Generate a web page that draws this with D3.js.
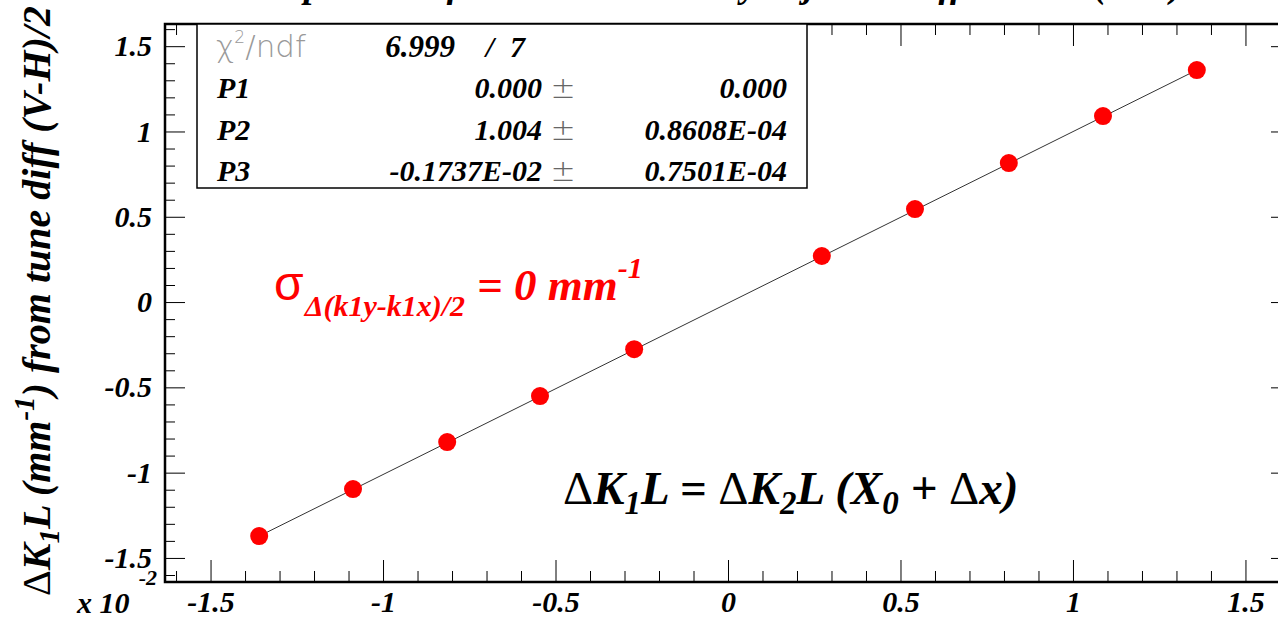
<!DOCTYPE html>
<html>
<head>
<meta charset="utf-8">
<script src="https://cdn.jsdelivr.net/npm/d3@7"></script>
<style>
  body { margin: 0; background: #fff; }
  svg { display: block; }
  .serif { font-family: "Liberation Serif", "DejaVu Serif", serif; font-weight: bold; font-style: italic; }
  .sans { font-family: "Liberation Sans", Arimo, sans-serif; }
  .thin { font-family: "DejaVu Sans", "Liberation Sans", sans-serif; font-weight: 200; }
  .up { font-style: normal; font-weight: normal; }
</style>
</head>
<body>
<div id="chart"></div>
<script>
// data, in units of 10^-2
const xValues = [-1.359, -1.087, -0.814, -0.545, -0.272, 0.272, 0.542, 0.814, 1.087, 1.359];
const yValues = [-1.372, -1.096, -0.821, -0.551, -0.276, 0.270, 0.545, 0.815, 1.090, 1.360];
const fitX = [-1.359, 1.359];
const fitY = [-1.372, 1.360];
const majorTicks = [-1.5, -1, -0.5, 0, 0.5, 1, 1.5];
const tickLabels = ["-1.5", "-1", "-0.5", "0", "0.5", "1", "1.5"];
const statNames = ["P1", "P2", "P3"];
const statValues = ["0.000", "1.004", "-0.1737E-02"];
const statErrors = ["0.000", "0.8608E-04", "0.7501E-04"];

const W = 1278, H = 618;
const margin = { left: 165, top: 24, right: -13, bottom: 36 };
const width = W - margin.left - margin.right;
const height = H - margin.top - margin.bottom;

const svg = d3.select("#chart").append("svg")
    .attr("width", W)
    .attr("height", H);

// Title (sits above the picture, only descenders show)
svg.append("text")
    .attr("class", "serif")
    .attr("x", 232)
    .attr("y", -3)
    .attr("font-size", "37px")
    .text("Comparison of ΔK1L measured by adj. tune diff method (V-H)");

const g = svg.append("g")
    .attr("transform", `translate(${margin.left},${margin.top})`);

// Scales
const x = d3.scaleLinear().domain([-1.632, 1.632]).range([0, width]);
const y = d3.scaleLinear().domain([-1.641, 1.63]).range([height, 0]);

const minor = d3.range(-16, 17).map(d => d / 10).filter(d => !majorTicks.some(m => Math.abs(m - d) < 1e-9));
const fmt = d => tickLabels[majorTicks.indexOf(d)];

function styleAxis(sel) {
    sel.select(".domain").remove();
    sel.selectAll(".tick line").attr("stroke", "#000").attr("stroke-width", 1);
}

// X axes
g.append("g").attr("transform", `translate(0,${height})`)
    .call(d3.axisBottom(x).tickValues(minor).tickSize(-11).tickFormat(""))
    .call(styleAxis);
g.append("g").attr("class", "x axis").attr("transform", `translate(0,${height})`)
    .call(d3.axisBottom(x).tickValues(majorTicks).tickSize(-22).tickPadding(9).tickFormat(fmt))
    .call(styleAxis);
g.append("g")
    .call(d3.axisTop(x).tickValues(minor).tickSize(-11).tickFormat(""))
    .call(styleAxis);
g.append("g")
    .call(d3.axisTop(x).tickValues(majorTicks).tickSize(-22).tickFormat(""))
    .call(styleAxis);

// Y axes
g.append("g")
    .call(d3.axisLeft(y).tickValues(minor).tickSize(-10).tickFormat(""))
    .call(styleAxis);
g.append("g").attr("class", "y axis")
    .call(d3.axisLeft(y).tickValues(majorTicks).tickSize(-20).tickPadding(13).tickFormat(fmt))
    .call(styleAxis);
g.append("g").attr("transform", `translate(${width},0)`)
    .call(d3.axisRight(y).tickValues(minor).tickSize(-10).tickFormat(""))
    .call(styleAxis);
g.append("g").attr("transform", `translate(${width},0)`)
    .call(d3.axisRight(y).tickValues(majorTicks).tickSize(-20).tickFormat(""))
    .call(styleAxis);

g.selectAll(".axis text")
    .attr("class", "serif")
    .attr("font-size", "30px")
    .attr("fill", "#000");

// Frame
g.append("rect")
    .attr("width", width).attr("height", height)
    .attr("fill", "none").attr("stroke", "#000").attr("stroke-width", 2.5);

// Stats box
const box = g.append("g").attr("transform", "translate(32,0)");
box.append("rect")
    .attr("width", 610).attr("height", 164)
    .attr("fill", "#fff").attr("stroke", "#000").attr("stroke-width", 1.5);
const chi = box.append("text").attr("class", "thin")
    .attr("x", 19).attr("y", 33).attr("font-size", "31px").attr("fill", "#999");
chi.append("tspan").text("χ");
chi.append("tspan").attr("font-size", "17px").attr("dy", -14).text("2");
chi.append("tspan").attr("dy", 14).text("/ndf");
box.append("text").attr("class", "serif").attr("x", 258).attr("y", 33)
    .attr("font-size", "31px").attr("text-anchor", "end").text("6.999");
box.append("text").attr("class", "serif").attr("x", 293).attr("y", 33)
    .attr("font-size", "30px").attr("text-anchor", "middle").text("/");
box.append("text").attr("class", "serif").attr("x", 328).attr("y", 33)
    .attr("font-size", "30px").attr("text-anchor", "end").text("7");

const rows = box.selectAll("g.row").data(statNames).enter().append("g")
    .attr("class", "row")
    .attr("transform", (d, i) => `translate(0,${74 + i * 41.5})`);
rows.append("text").attr("class", "serif").attr("x", 20).attr("font-size", "30px")
    .text(d => d);
rows.append("text").attr("class", "serif").attr("x", 345).attr("font-size", "30px")
    .attr("text-anchor", "end").text((d, i) => statValues[i]);
rows.append("text").attr("class", "thin").attr("x", 366).attr("font-size", "30px")
    .attr("text-anchor", "middle").attr("fill", "#666").text("±");
rows.append("text").attr("class", "serif").attr("x", 590).attr("font-size", "30px")
    .attr("text-anchor", "end").text((d, i) => statErrors[i]);

// Fit line
g.append("path")
    .datum(d3.zip(fitX, fitY))
    .attr("fill", "none").attr("stroke", "#333").attr("stroke-width", 1)
    .attr("d", d3.line().x(d => x(d[0])).y(d => y(d[1])));

// Points
g.selectAll("circle").data(d3.zip(xValues, yValues)).enter().append("circle")
    .attr("cx", d => x(d[0]))
    .attr("cy", d => y(d[1]))
    .attr("r", 9)
    .attr("fill", "#ff0000");

// Sigma annotation
const sig = svg.append("text").attr("fill", "#ff0000").attr("x", 274).attr("y", 300);
sig.append("tspan").attr("class", "sans").attr("font-size", "48px").text("σ");
sig.append("tspan").attr("class", "serif").attr("font-size", "30px").attr("dy", 16)
    .attr("dx", 1).text("Δ(k1y-k1x)/2");
sig.append("tspan").attr("class", "serif").attr("font-size", "45px").attr("dy", -16)
    .attr("dx", 12).text("= 0 mm");
sig.append("tspan").attr("class", "serif").attr("font-size", "30px").attr("dy", -22)
    .text("-1");

// Equation
const eq = svg.append("text").attr("class", "serif").attr("x", 563).attr("y", 504)
    .attr("font-size", "47px").attr("fill", "#000");
eq.append("tspan").attr("class", "up").text("Δ");
eq.append("tspan").text("K");
eq.append("tspan").attr("font-size", "33px").attr("dy", 10).text("1");
eq.append("tspan").attr("dy", -10).text("L = ");
eq.append("tspan").attr("class", "up").text(" Δ");
eq.append("tspan").text("K");
eq.append("tspan").attr("font-size", "33px").attr("dy", 10).text("2");
eq.append("tspan").attr("dy", -10).text("L (X");
eq.append("tspan").attr("font-size", "33px").attr("dy", 10).text("0");
eq.append("tspan").attr("dy", -10).text(" +  ");
eq.append("tspan").attr("class", "up").text("Δ");
eq.append("tspan").text("x)");

// Exponent label
svg.append("text").attr("class", "serif").attr("x", 77).attr("y", 613)
    .attr("font-size", "30px").text("x 10");
svg.append("text").attr("class", "serif").attr("x", 157).attr("y", 585)
    .attr("font-size", "22px").attr("text-anchor", "end").text("-2");

// Y label
const yl = svg.append("text").attr("class", "serif")
    .attr("transform", "translate(50,301) rotate(-90)")
    .attr("text-anchor", "middle")
    .attr("font-size", "40px");
yl.append("tspan").attr("class", "up").text("Δ");
yl.append("tspan").text("K");
yl.append("tspan").attr("font-size", "29px").attr("dy", 9).text("1");
yl.append("tspan").attr("dy", -9).text("L (mm");
yl.append("tspan").attr("font-size", "29px").attr("dy", -16).text("-1");
yl.append("tspan").attr("dy", 16).text(") from tune diff (V-H)/2");
</script>
</body>
</html>
